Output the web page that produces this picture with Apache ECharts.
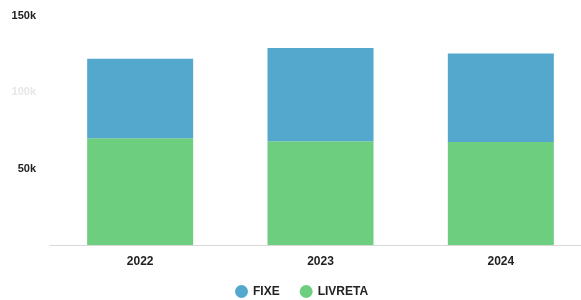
<!DOCTYPE html>
<html>
<head>
<meta charset="utf-8">
<script src="https://cdn.jsdelivr.net/npm/echarts@6/dist/echarts.min.js"></script>
<style>html,body{margin:0;padding:0;background:#fff}#c{width:581px;height:300px}</style>
</head>
<body>
<div id="c"></div>
<script>
var categories = ['2022', '2023', '2024'];
var livreta = [70000, 68000, 67500];
var fixe = [52000, 61000, 58000];
var yTickLabels = {0: '', 50000: '50k', 100000: '100k', 150000: '150k'};

var chart = echarts.init(document.getElementById('c'));
chart.setOption({
  animation: false,
  grid: {left: 50, width: 541, top: 16, bottom: 55, containLabel: false, outerBoundsMode: 'none'},
  legend: {
    left: 235, bottom: 2, padding: 0,
    icon: 'circle', itemWidth: 13, itemHeight: 13, itemGap: 20,
    textStyle: {fontFamily: 'Liberation Sans', fontSize: 12, fontWeight: 'bold', color: '#222'},
    data: ['FIXE', 'LIVRETA']
  },
  xAxis: {
    type: 'category', data: categories,
    axisLine: {lineStyle: {color: '#d8d8d8'}},
    axisTick: {show: false},
    axisLabel: {margin: 11, fontFamily: 'Liberation Sans', fontSize: 12, fontWeight: 'bold', color: '#222'}
  },
  yAxis: {
    type: 'value', min: 0, max: 150000, interval: 50000,
    splitLine: {show: false},
    axisLine: {show: false}, axisTick: {show: false},
    axisLabel: {
      margin: 14, fontFamily: 'Liberation Sans', fontSize: 11, fontWeight: 'bold',
      color: function (v) { return v == 100000 ? '#e6e6e6' : '#222'; },
      formatter: function (v) { return yTickLabels[v]; }
    }
  },
  series: [
    {name: 'LIVRETA', type: 'bar', stack: 't', data: livreta, barWidth: 106, itemStyle: {color: '#6dce80'}},
    {name: 'FIXE', type: 'bar', stack: 't', data: fixe, barWidth: 106, itemStyle: {color: '#55a8cd'}}
  ]
});
</script>
</body>
</html>
